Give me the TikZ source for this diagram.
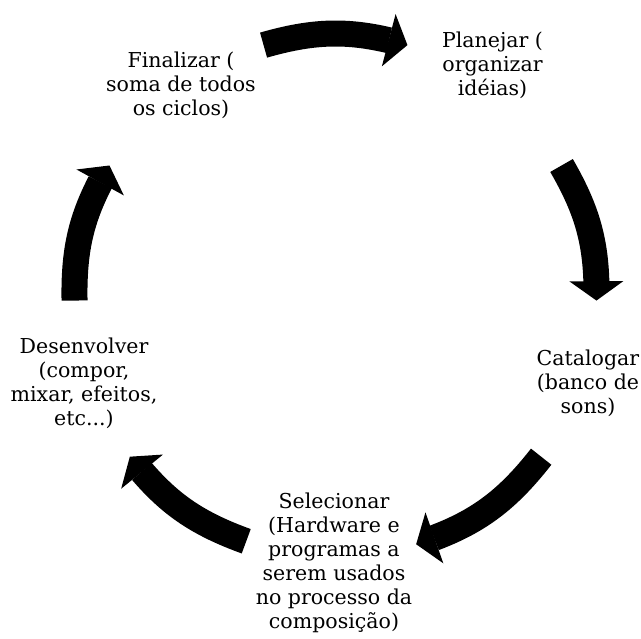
\documentclass[tikz,border=0pt]{standalone}
\usepackage{fontspec}
\usepackage{tikz}
\usetikzlibrary{arrows.meta, bending, positioning}
\newfontfamily\stagefont{DejaVu Serif}

\begin{document}
\begin{tikzpicture}[x=0.75pt, y=0.75pt]
    % Styles
    \tikzstyle{stage} = [align=center, inner sep=0pt, font=\stagefont\fontsize{15.4}{18}\selectfont]
    \tikzstyle{cyclearrow} = [line width=19.5pt, black, -{Triangle[width=40.5pt, length=14.5pt, line width=0pt 0 0]}]

    \useasboundingbox (-335.5,-342) rectangle (305.5,296);

    % Nodes
    \node [stage] (plan) at (157,231) {Planejar (\\organizar\\idéias)};
    \node [stage] (catalog) at (252.5,-87) {Catalogar\\(banco de\\sons)};
    \node [stage] (select) at (-1.5,-266.5) {Selecionar\\(Hardware e\\programas a\\serem usados\\no processo da\\composição)};
    \node [stage] (develop) at (-251.5,-87) {Desenvolver\\(compor,\\mixar, efeitos,\\etc...)};
    \node [stage] (final) at (-154.5,211) {Finalizar (\\soma de todos\\os ciclos)};

    % Arrow ends
    \coordinate (final-out) at (106:261);
    \coordinate (plan-in) at (74:261);
    \coordinate (plan-out) at (30:261);
    \coordinate (catalog-in) at (-1:261);
    \coordinate (catalog-out) at (-38:261);
    \coordinate (select-in) at (-72:261);
    \coordinate (select-out) at (-110:261);
    \coordinate (develop-in) at (-142:261);
    \coordinate (develop-out) at (181:261);
    \coordinate (final-in) at (150:261);

    % Arrows
    \draw [cyclearrow] (final-out) to[bend left=16] (plan-in);
    \draw [cyclearrow] (plan-out) to[bend left=15.5] (catalog-in);
    \draw [cyclearrow] (catalog-out) to[bend left=17] (select-in);
    \draw [cyclearrow] (select-out) to[bend left=16] (develop-in);
    \draw [cyclearrow] (develop-out) to[bend left=15.5] (final-in);
\end{tikzpicture}
\end{document}
